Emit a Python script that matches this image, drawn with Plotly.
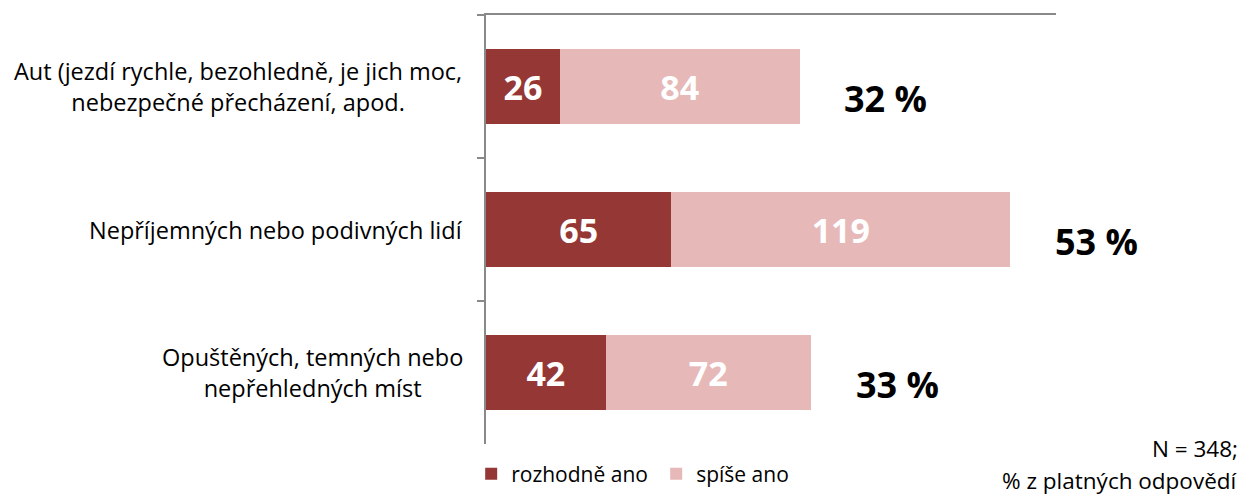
import plotly.graph_objects as go

categories = [
    "Aut (jezdí rychle, bezohledně, je jich moc,<br>nebezpečné přecházení, apod.",
    "Nepříjemných nebo podivných lidí",
    "Opuštěných, temných nebo<br>nepřehledných míst",
]
rozhodne_ano = [26, 65, 42]
spise_ano = [84, 119, 72]
percent_labels = ["32 %", "53 %", "33 %"]
label_centers_px = [238, 276, 312]

DARK = "#953735"
LIGHT = "#E6B9B8"
AXIS = "#898989"
FONT = "Open Sans"

fig = go.Figure()
fig.add_trace(go.Bar(
    y=categories, x=rozhodne_ano, orientation="h", name="rozhodně ano",
    marker=dict(color=DARK, line=dict(width=0)),
    text=[str(v) for v in rozhodne_ano], textposition="inside",
    insidetextanchor="middle",
    textfont=dict(family=FONT, size=34, color="white", weight="bold"),
))
fig.add_trace(go.Bar(
    y=categories, x=spise_ano, orientation="h", name="spíše ano",
    marker=dict(color=LIGHT, line=dict(width=0)),
    text=[str(v) for v in spise_ano], textposition="inside",
    insidetextanchor="middle",
    textfont=dict(family=FONT, size=34, color="white", weight="bold"),
))

OFF = 8  # browser body margin
W, H = 1245 - OFF, 496 - OFF
L, R, T, B = 486 - OFF, 189, 15 - OFF, 52
pw = W - L - R

annotations = []
for cat, a, b, p in zip(categories, rozhodne_ano, spise_ano, percent_labels):
    annotations.append(dict(
        x=a + b + 15, y=cat, xref="x", yref="y", text=p, showarrow=False,
        xanchor="left", yanchor="middle", yshift=-12,
        font=dict(family=FONT, size=36, color="black", weight="bold"),
    ))
for cat, cpx in zip(categories, label_centers_px):
    annotations.append(dict(
        x=(cpx - 486) / pw, y=cat, xref="paper", yref="y", text=cat,
        showarrow=False, xanchor="center", yanchor="middle", align="center",
        font=dict(family=FONT, size=23.5, color="black"),
    ))
for txt, ys in [("N = 348;", -4), ("% z platných odpovědí", -36)]:
    annotations.append(dict(
        x=1.0, y=0.0, xref="paper", yref="paper", xshift=R - 5, yshift=ys,
        text=txt, showarrow=False, xanchor="right", yanchor="middle",
        align="right", font=dict(family=FONT, size=22.5, color="black"),
    ))

fig.update_layout(
    width=W, height=H,
    margin=dict(l=L, r=R, t=T, b=B, autoexpand=False),
    barmode="stack", bargap=0.48,
    plot_bgcolor="white", paper_bgcolor="white",
    font=dict(family=FONT, color="black"),
    showlegend=True,
    legend=dict(orientation="h", x=-0.026, xanchor="left", y=-0.07,
                yanchor="middle", font=dict(family=FONT, size=21),
                entrywidth=140, traceorder="normal"),
    annotations=annotations,
    uniformtext=dict(mode="show", minsize=10),
)
fig.update_xaxes(range=[0, 200], side="top", showline=True, linecolor=AXIS,
                 linewidth=2, showgrid=False, zeroline=False,
                 showticklabels=False, ticks="")
fig.update_yaxes(autorange="reversed", showline=True, linecolor=AXIS,
                 linewidth=2, showgrid=False, ticks="outside",
                 tickson="boundaries", ticklen=7, tickcolor=AXIS, tickwidth=2,
                 showticklabels=False)

fig.write_html("out.html")
